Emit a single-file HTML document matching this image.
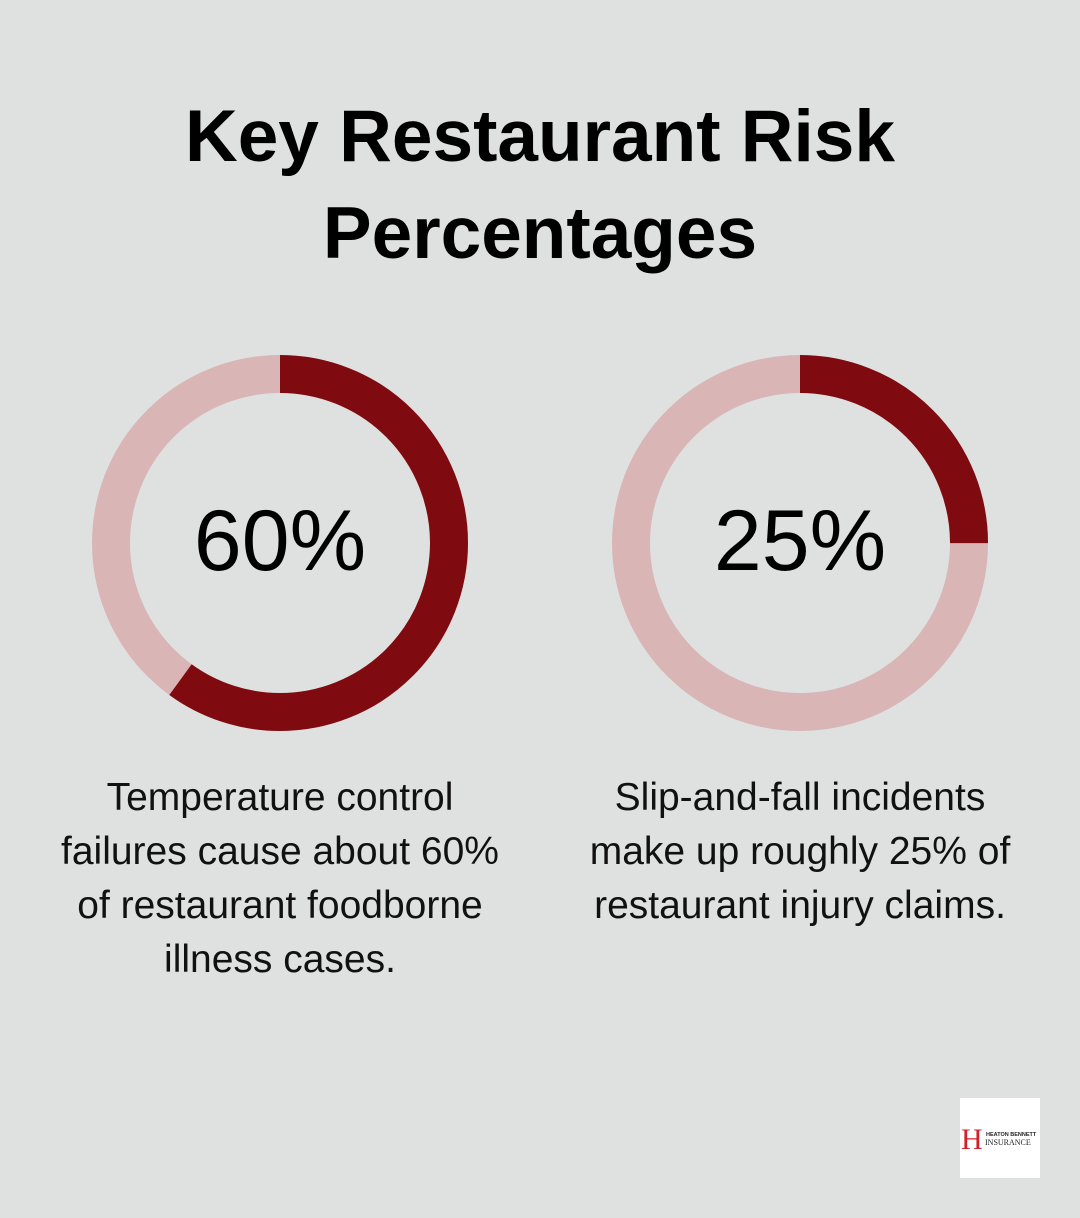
<!DOCTYPE html>
<html><head><style>
body{margin:0;width:1080px;height:1218px;background:#dfe1e0;font-family:"Liberation Sans",sans-serif;position:relative;overflow:hidden}
.t{position:absolute;left:0;width:1080px;text-align:center;font-weight:bold;font-size:73px;color:#000;line-height:97px;top:88px}
.d{position:absolute;text-align:center;font-size:39px;line-height:54px;color:#111;width:540px;top:771px;white-space:nowrap}
.n{position:absolute;font-size:86px;color:#000;width:300px;text-align:center;top:492px}
</style></head><body>
<div class="t">Key Restaurant Risk<br>Percentages</div>
<svg width="1080" height="1218" style="position:absolute;left:0;top:0">
<g transform="translate(280,543) rotate(-90)">
<circle r="169" fill="none" stroke="#d9b5b6" stroke-width="38"/>
<circle r="169" fill="none" stroke="#7f0b10" stroke-width="38" stroke-dasharray="637.1 2000"/>
</g>
<g transform="translate(800,543) rotate(-90)">
<circle r="169" fill="none" stroke="#d9b5b6" stroke-width="38"/>
<circle r="169" fill="none" stroke="#7f0b10" stroke-width="38" stroke-dasharray="265.5 2000"/>
</g>
<rect x="960" y="1098" width="80" height="80" fill="#fff"/>
<text x="961" y="1149" font-family="Liberation Serif" font-size="30" fill="#d0202a">H</text>
<text x="986" y="1136" font-family="Liberation Sans" font-weight="bold" font-size="5.5" fill="#222">HEATON BENNETT</text>
<text x="985" y="1145" font-family="Liberation Serif" font-size="8" fill="#222">INSURANCE</text>
</svg>
<div class="n" style="left:130px">60%</div>
<div class="n" style="left:650px">25%</div>
<div class="d" style="left:10px">Temperature control<br>failures cause about 60%<br>of restaurant foodborne<br>illness cases.</div>
<div class="d" style="left:530px">Slip-and-fall incidents<br>make up roughly 25% of<br>restaurant injury claims.</div>
</body></html>
